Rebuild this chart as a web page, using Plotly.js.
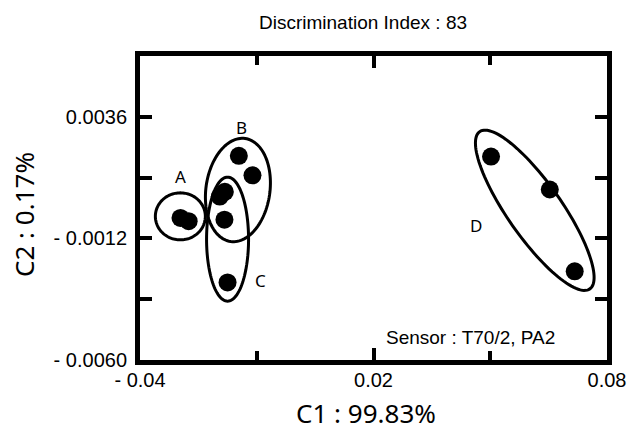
<!DOCTYPE html>
<html>
<head>
<meta charset="utf-8">
<script src="https://cdn.plot.ly/plotly-3.0.1.min.js"></script>
<style>html,body{margin:0;padding:0;background:#fff;}#chart{width:632px;height:439px;}</style>
</head>
<body>
<div id="chart"></div>
<script>
// Data (C1, C2 scores)
const xPoints = [-0.0296, -0.0275, -0.0146, -0.0111, -0.0195, -0.0182, -0.0183, -0.0175, 0.0502, 0.0653, 0.0717];
const yPoints = [-0.00039, -0.00052, 0.00206, 0.00129, 0.00045, 0.00064, -0.00046, -0.00294, 0.00203, 0.00073, -0.0025];

const groupLabels = ["A", "B", "C", "D"];
const labelX = [-0.0297, -0.0139, -0.0091, 0.0463];
const labelY = [0.00125, 0.00319, -0.00286, -0.00069];

// group ellipses: centre in data units, semi-axes in px, rotation in degrees
const ellCx = [-0.02963, -0.01484, -0.0175, 0.06144];
const ellCy = [-0.00033, 0.00071, -0.00123, -0.00009];
const ellA = [25, 32, 21, 96];   // along rotated x
const ellB = [23.5, 52, 62, 27]; // along rotated y
const ellRot = [0, 8, 0, 55];

const xTickVals = [-0.04, 0.02, 0.08];
const xTickText = ["- 0.04", "0.02", "0.08"];
const yTickVals = [-0.006, -0.0012, 0.0036];
const yTickText = ["- 0.0060", "- 0.0012", "0.0036"];

const W = 632, H = 439;
const M = {l: 140, r: 25, t: 56, b: 79};
const xr = [-0.04, 0.08], yr = [-0.006, 0.006];
const pw = W - M.l - M.r, ph = H - M.t - M.b;
const sx = (xr[1] - xr[0]) / pw, sy = (yr[1] - yr[0]) / ph;

function ellipsePath(i) {
  const n = 120, th = ellRot[i] * Math.PI / 180;
  let d = "";
  for (let k = 0; k <= n; k++) {
    const t = 2 * Math.PI * k / n;
    const ex = ellA[i] * Math.cos(t), ey = ellB[i] * Math.sin(t);
    const px = ex * Math.cos(th) - ey * Math.sin(th);
    const py = ex * Math.sin(th) + ey * Math.cos(th);
    const X = ellCx[i] + px * sx, Y = ellCy[i] - py * sy;
    d += (k === 0 ? "M" : "L") + X + "," + Y;
  }
  return d + "Z";
}

const shapes = groupLabels.map((g, i) => ({
  type: "path", xref: "x", yref: "y", path: ellipsePath(i),
  line: {color: "#000", width: 3}, fillcolor: "rgba(0,0,0,0)"
}));

const annotations = groupLabels.map((g, i) => ({
  x: labelX[i], y: labelY[i], xref: "x", yref: "y", text: g, showarrow: false,
  font: {family: "Noto Sans", size: 17, color: "#000"}
}));
annotations.push({
  x: (363 - M.l) / pw, y: 1, xref: "paper", yref: "paper", text: "Discrimination Index : 83",
  showarrow: false, xanchor: "center", yanchor: "middle", yshift: 56 - 22,
  font: {family: "Liberation Sans", size: 19, color: "#000"}
});
annotations.push({
  x: 0.02, y: -0.0051, xref: "x", yref: "y", text: "Sensor : T70/2, PA2",
  showarrow: false, xanchor: "left", yanchor: "middle", xshift: 10,
  font: {family: "Liberation Sans", size: 19, color: "#000"}
});
annotations.push({
  x: (366 - M.l) / pw, y: 0, xref: "paper", yref: "paper", text: "C1 : 99.83%",
  showarrow: false, xanchor: "center", yanchor: "middle", yshift: -(413 - (H - M.b)),
  font: {family: "Noto Sans", size: 26, color: "#000"}
});
annotations.push({
  x: 0, y: (H - M.b - 215) / ph, xref: "paper", yref: "paper", text: "C2 : 0.17%",
  showarrow: false, xanchor: "center", yanchor: "middle", xshift: -(M.l - 24), textangle: -90,
  font: {family: "Noto Sans", size: 26, color: "#000"}
});

const trace = {
  x: xPoints, y: yPoints, type: "scatter", mode: "markers",
  marker: {color: "#000", size: 18}, hoverinfo: "skip", cliponaxis: false
};

const axisCommon = {
  showgrid: false, zeroline: false, showline: true, linecolor: "#000", linewidth: 5,
  mirror: "allticks", ticks: "inside", ticklen: 12, tickwidth: 4, tickcolor: "#000",
  tickfont: {family: "Liberation Sans", size: 20, color: "#000"}, tickmode: "array"
};

const layout = {
  width: W, height: H, margin: M, showlegend: false,
  paper_bgcolor: "#fff", plot_bgcolor: "#fff",
  xaxis: Object.assign({}, axisCommon, {
    range: xr, tickvals: xTickVals, ticktext: xTickText, ticklabelstandoff: -2,
    minor: {tickvals: [-0.01, 0.05], ticklen: 9, tickwidth: 4, tickcolor: "#000", ticks: "inside"}
  }),
  yaxis: Object.assign({}, axisCommon, {
    range: yr, tickvals: yTickVals, ticktext: yTickText, ticklabelstandoff: 4,
    minor: {tickvals: [-0.0036, 0.0012], ticklen: 12, tickwidth: 4, tickcolor: "#000", ticks: "inside"}
  }),
  shapes: shapes, annotations: annotations
};

Plotly.newPlot("chart", [trace], layout, {staticPlot: true, displayModeBar: false});
</script>
</body>
</html>
